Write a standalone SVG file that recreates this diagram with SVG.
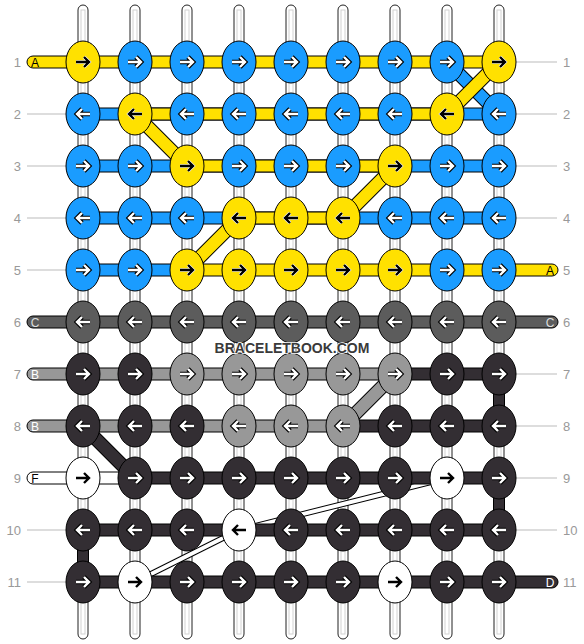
<svg xmlns="http://www.w3.org/2000/svg" xmlns:xlink="http://www.w3.org/1999/xlink" width="584" height="644" viewBox="0 0 584 644">
<style>
.y{fill:#ffe100}.b{fill:#1a9cff}.g{fill:#5c5c5c}.l{fill:#989898}.d{fill:#332e33}.w{fill:#fff}
.bar{stroke:#000;stroke-width:1}
ellipse{stroke:#000;stroke-width:1}
.str{fill:#fff;stroke:#222;stroke-width:1}
.stri{fill:none;stroke:#d2d2d2;stroke-width:1}
.ol{stroke:#000;stroke-width:14;fill:none}
.ol2{stroke:#000;stroke-width:6;fill:none}
.sy{stroke:#ffe100;stroke-width:12}.sb{stroke:#1a9cff;stroke-width:12}.sl{stroke:#989898;stroke-width:12}.sd{stroke:#332e33;stroke-width:12}.sw{stroke:#fff;stroke-width:4}
.gl{stroke:#bbb;stroke-width:1}
.num{font-family:"Liberation Sans",Arial,sans-serif;font-size:13px;fill:#999}
.let{font-family:"Liberation Sans",Arial,sans-serif;font-size:12px;text-anchor:middle}
.wm{font-family:"Liberation Sans",Arial,sans-serif;font-size:14px;font-weight:bold;fill:#3a3a3a;text-anchor:middle;stroke:#fff;stroke-width:1.5;paint-order:stroke}
</style>
<defs>
<path id="pr" d="M-7,0H5M1,-5L6,0L1,5" fill="none"/>
<path id="pl" d="M7,0H-5M-1,-5L-6,0L-1,5" fill="none"/>
<g id="rw"><use href="#pr" stroke="#000" stroke-width="4.6"/><use href="#pr" stroke="#fff" stroke-width="2.4"/></g>
<g id="lw"><use href="#pl" stroke="#000" stroke-width="4.6"/><use href="#pl" stroke="#fff" stroke-width="2.4"/></g>
<g id="rb"><use href="#pr" stroke="#fff" stroke-width="3.6"/><use href="#pr" stroke="#000" stroke-width="2.4"/></g>
<g id="lb"><use href="#pl" stroke="#fff" stroke-width="3.6"/><use href="#pl" stroke="#000" stroke-width="2.4"/></g>
</defs>
<rect width="584" height="644" fill="#fff"/>
<g id="strings">
<rect class="str" x="78" y="5" width="10" height="634" rx="5"/><rect class="stri" x="81" y="10" width="4" height="624"/>
<rect class="str" x="130" y="5" width="10" height="634" rx="5"/><rect class="stri" x="133" y="10" width="4" height="624"/>
<rect class="str" x="182" y="5" width="10" height="634" rx="5"/><rect class="stri" x="185" y="10" width="4" height="624"/>
<rect class="str" x="234" y="5" width="10" height="634" rx="5"/><rect class="stri" x="237" y="10" width="4" height="624"/>
<rect class="str" x="286" y="5" width="10" height="634" rx="5"/><rect class="stri" x="289" y="10" width="4" height="624"/>
<rect class="str" x="338" y="5" width="10" height="634" rx="5"/><rect class="stri" x="341" y="10" width="4" height="624"/>
<rect class="str" x="390" y="5" width="10" height="634" rx="5"/><rect class="stri" x="393" y="10" width="4" height="624"/>
<rect class="str" x="442" y="5" width="10" height="634" rx="5"/><rect class="stri" x="445" y="10" width="4" height="624"/>
<rect class="str" x="494" y="5" width="10" height="634" rx="5"/><rect class="stri" x="497" y="10" width="4" height="624"/>
</g>
<g id="labels">
<line class="gl" x1="27" y1="114" x2="66" y2="114"/><line class="gl" x1="27" y1="166" x2="66" y2="166"/>
<line class="gl" x1="27" y1="218" x2="66" y2="218"/><line class="gl" x1="27" y1="270" x2="66" y2="270"/>
<line class="gl" x1="27" y1="530" x2="66" y2="530"/><line class="gl" x1="27" y1="582" x2="66" y2="582"/>
<line class="gl" x1="516" y1="62" x2="557" y2="62"/><line class="gl" x1="516" y1="114" x2="557" y2="114"/>
<line class="gl" x1="516" y1="166" x2="557" y2="166"/><line class="gl" x1="516" y1="218" x2="557" y2="218"/>
<line class="gl" x1="516" y1="374" x2="557" y2="374"/><line class="gl" x1="516" y1="426" x2="557" y2="426"/>
<line class="gl" x1="516" y1="478" x2="557" y2="478"/><line class="gl" x1="516" y1="530" x2="557" y2="530"/>
<g class="num" text-anchor="end">
<text x="21" y="67">1</text><text x="21" y="119">2</text><text x="21" y="171">3</text><text x="21" y="223">4</text><text x="21" y="275">5</text><text x="21" y="327">6</text><text x="21" y="379">7</text><text x="21" y="431">8</text><text x="21" y="483">9</text><text x="21" y="535">10</text><text x="21" y="587">11</text>
</g>
<g class="num">
<text x="563" y="67">1</text><text x="563" y="119">2</text><text x="563" y="171">3</text><text x="563" y="223">4</text><text x="563" y="275">5</text><text x="563" y="327">6</text><text x="563" y="379">7</text><text x="563" y="431">8</text><text x="563" y="483">9</text><text x="563" y="535">10</text><text x="563" y="587">11</text>
</g>
</g>
<g id="connectors">
<line class="ol" x1="447" y1="62" x2="499" y2="114"/><line class="sb" x1="447" y1="62" x2="499" y2="114"/>
<line class="ol" x1="499" y1="62" x2="447" y2="114"/><line class="sy" x1="499" y1="62" x2="447" y2="114"/>
<line class="ol" x1="135" y1="114" x2="187" y2="166"/><line class="sy" x1="135" y1="114" x2="187" y2="166"/>
<line class="ol" x1="395" y1="166" x2="343" y2="218"/><line class="sy" x1="395" y1="166" x2="343" y2="218"/>
<line class="ol" x1="239" y1="218" x2="187" y2="270"/><line class="sy" x1="239" y1="218" x2="187" y2="270"/>
<line class="ol" x1="395" y1="374" x2="343" y2="426"/><line class="sl" x1="395" y1="374" x2="343" y2="426"/>
<line class="ol" x1="83" y1="426" x2="135" y2="478"/><line class="sd" x1="83" y1="426" x2="135" y2="478"/>
<line class="ol2" x1="447" y1="478" x2="239" y2="530"/><line class="sw" x1="447" y1="478" x2="239" y2="530"/>
<line class="ol2" x1="239" y1="530" x2="135" y2="582"/><line class="sw" x1="239" y1="530" x2="135" y2="582"/>
<rect class="d bar" x="493.5" y="374" width="11" height="52"/>
<rect class="d bar" x="493.5" y="478" width="11" height="52"/>
<rect class="d bar" x="77.5" y="530" width="11" height="52"/>
<rect class="y bar" x="27" y="56" width="472" height="12" rx="6"/>
<rect class="b bar" x="83" y="108" width="416" height="12"/><rect class="y bar" x="135" y="108" width="312" height="12"/>
<rect class="b bar" x="83" y="160" width="416" height="12"/><rect class="y bar" x="187" y="160" width="208" height="12"/>
<rect class="b bar" x="83" y="212" width="416" height="12"/><rect class="y bar" x="239" y="212" width="104" height="12"/>
<rect class="b bar" x="83" y="264" width="104" height="12"/><rect class="y bar" x="177" y="264" width="381" height="12" rx="6"/>
<rect class="g bar" x="27" y="316" width="531" height="12" rx="6"/>
<rect class="d bar" x="390" y="368" width="109" height="12"/><rect class="l bar" x="27" y="368" width="368" height="12" rx="6"/>
<rect class="d bar" x="338" y="420" width="161" height="12"/><rect class="l bar" x="27" y="420" width="316" height="12" rx="6"/>
<rect class="d bar" x="130" y="472" width="369" height="12"/><rect class="w bar" x="27" y="472" width="108" height="12" rx="6"/>
<rect class="d bar" x="83" y="524" width="416" height="12"/>
<rect class="d bar" x="83" y="576" width="475" height="12" rx="6"/>
<text class="let" x="35" y="66.5" fill="#000">A</text>
<text class="let" x="550" y="274.5" fill="#000">A</text>
<text class="let" x="35" y="326.5" fill="#ddd">C</text>
<text class="let" x="550" y="326.5" fill="#ddd">C</text>
<text class="let" x="35" y="378.5" fill="#fff">B</text>
<text class="let" x="35" y="430.5" fill="#fff">B</text>
<text class="let" x="35" y="482.5" fill="#000">F</text>
<text class="let" x="550" y="586.5" fill="#fff">D</text>
</g>
<g id="knots">
<g id="k1-1"><ellipse class="y" cx="83" cy="62" rx="17" ry="21"/><use href="#rb" x="83" y="62"/></g>
<g id="k1-2"><ellipse class="b" cx="135" cy="62" rx="17" ry="21"/><use href="#rw" x="135" y="62"/></g>
<g id="k1-3"><ellipse class="b" cx="187" cy="62" rx="17" ry="21"/><use href="#rw" x="187" y="62"/></g>
<g id="k1-4"><ellipse class="b" cx="239" cy="62" rx="17" ry="21"/><use href="#rw" x="239" y="62"/></g>
<g id="k1-5"><ellipse class="b" cx="291" cy="62" rx="17" ry="21"/><use href="#rw" x="291" y="62"/></g>
<g id="k1-6"><ellipse class="b" cx="343" cy="62" rx="17" ry="21"/><use href="#rw" x="343" y="62"/></g>
<g id="k1-7"><ellipse class="b" cx="395" cy="62" rx="17" ry="21"/><use href="#rw" x="395" y="62"/></g>
<g id="k1-8"><ellipse class="b" cx="447" cy="62" rx="17" ry="21"/><use href="#rw" x="447" y="62"/></g>
<g id="k1-9"><ellipse class="y" cx="499" cy="62" rx="17" ry="21"/><use href="#rb" x="499" y="62"/></g>

<g id="k2-1"><ellipse class="b" cx="83" cy="114" rx="17" ry="21"/><use href="#lw" x="83" y="114"/></g>
<g id="k2-2"><ellipse class="y" cx="135" cy="114" rx="17" ry="21"/><use href="#lb" x="135" y="114"/></g>
<g id="k2-3"><ellipse class="b" cx="187" cy="114" rx="17" ry="21"/><use href="#lw" x="187" y="114"/></g>
<g id="k2-4"><ellipse class="b" cx="239" cy="114" rx="17" ry="21"/><use href="#lw" x="239" y="114"/></g>
<g id="k2-5"><ellipse class="b" cx="291" cy="114" rx="17" ry="21"/><use href="#lw" x="291" y="114"/></g>
<g id="k2-6"><ellipse class="b" cx="343" cy="114" rx="17" ry="21"/><use href="#lw" x="343" y="114"/></g>
<g id="k2-7"><ellipse class="b" cx="395" cy="114" rx="17" ry="21"/><use href="#lw" x="395" y="114"/></g>
<g id="k2-8"><ellipse class="y" cx="447" cy="114" rx="17" ry="21"/><use href="#lb" x="447" y="114"/></g>
<g id="k2-9"><ellipse class="b" cx="499" cy="114" rx="17" ry="21"/><use href="#lw" x="499" y="114"/></g>

<g id="k3-1"><ellipse class="b" cx="83" cy="166" rx="17" ry="21"/><use href="#rw" x="83" y="166"/></g>
<g id="k3-2"><ellipse class="b" cx="135" cy="166" rx="17" ry="21"/><use href="#rw" x="135" y="166"/></g>
<g id="k3-3"><ellipse class="y" cx="187" cy="166" rx="17" ry="21"/><use href="#rb" x="187" y="166"/></g>
<g id="k3-4"><ellipse class="b" cx="239" cy="166" rx="17" ry="21"/><use href="#rw" x="239" y="166"/></g>
<g id="k3-5"><ellipse class="b" cx="291" cy="166" rx="17" ry="21"/><use href="#rw" x="291" y="166"/></g>
<g id="k3-6"><ellipse class="b" cx="343" cy="166" rx="17" ry="21"/><use href="#rw" x="343" y="166"/></g>
<g id="k3-7"><ellipse class="y" cx="395" cy="166" rx="17" ry="21"/><use href="#rb" x="395" y="166"/></g>
<g id="k3-8"><ellipse class="b" cx="447" cy="166" rx="17" ry="21"/><use href="#rw" x="447" y="166"/></g>
<g id="k3-9"><ellipse class="b" cx="499" cy="166" rx="17" ry="21"/><use href="#rw" x="499" y="166"/></g>

<g id="k4-1"><ellipse class="b" cx="83" cy="218" rx="17" ry="21"/><use href="#lw" x="83" y="218"/></g>
<g id="k4-2"><ellipse class="b" cx="135" cy="218" rx="17" ry="21"/><use href="#lw" x="135" y="218"/></g>
<g id="k4-3"><ellipse class="b" cx="187" cy="218" rx="17" ry="21"/><use href="#lw" x="187" y="218"/></g>
<g id="k4-4"><ellipse class="y" cx="239" cy="218" rx="17" ry="21"/><use href="#lb" x="239" y="218"/></g>
<g id="k4-5"><ellipse class="y" cx="291" cy="218" rx="17" ry="21"/><use href="#lb" x="291" y="218"/></g>
<g id="k4-6"><ellipse class="y" cx="343" cy="218" rx="17" ry="21"/><use href="#lb" x="343" y="218"/></g>
<g id="k4-7"><ellipse class="b" cx="395" cy="218" rx="17" ry="21"/><use href="#lw" x="395" y="218"/></g>
<g id="k4-8"><ellipse class="b" cx="447" cy="218" rx="17" ry="21"/><use href="#lw" x="447" y="218"/></g>
<g id="k4-9"><ellipse class="b" cx="499" cy="218" rx="17" ry="21"/><use href="#lw" x="499" y="218"/></g>

<g id="k5-1"><ellipse class="b" cx="83" cy="270" rx="17" ry="21"/><use href="#rw" x="83" y="270"/></g>
<g id="k5-2"><ellipse class="b" cx="135" cy="270" rx="17" ry="21"/><use href="#rw" x="135" y="270"/></g>
<g id="k5-3"><ellipse class="y" cx="187" cy="270" rx="17" ry="21"/><use href="#rb" x="187" y="270"/></g>
<g id="k5-4"><ellipse class="y" cx="239" cy="270" rx="17" ry="21"/><use href="#rb" x="239" y="270"/></g>
<g id="k5-5"><ellipse class="y" cx="291" cy="270" rx="17" ry="21"/><use href="#rb" x="291" y="270"/></g>
<g id="k5-6"><ellipse class="y" cx="343" cy="270" rx="17" ry="21"/><use href="#rb" x="343" y="270"/></g>
<g id="k5-7"><ellipse class="y" cx="395" cy="270" rx="17" ry="21"/><use href="#rb" x="395" y="270"/></g>
<g id="k5-8"><ellipse class="b" cx="447" cy="270" rx="17" ry="21"/><use href="#rw" x="447" y="270"/></g>
<g id="k5-9"><ellipse class="b" cx="499" cy="270" rx="17" ry="21"/><use href="#rw" x="499" y="270"/></g>

<g id="k6-1"><ellipse class="g" cx="83" cy="322" rx="17" ry="21"/><use href="#lw" x="83" y="322"/></g>
<g id="k6-2"><ellipse class="g" cx="135" cy="322" rx="17" ry="21"/><use href="#lw" x="135" y="322"/></g>
<g id="k6-3"><ellipse class="g" cx="187" cy="322" rx="17" ry="21"/><use href="#lw" x="187" y="322"/></g>
<g id="k6-4"><ellipse class="g" cx="239" cy="322" rx="17" ry="21"/><use href="#lw" x="239" y="322"/></g>
<g id="k6-5"><ellipse class="g" cx="291" cy="322" rx="17" ry="21"/><use href="#lw" x="291" y="322"/></g>
<g id="k6-6"><ellipse class="g" cx="343" cy="322" rx="17" ry="21"/><use href="#lw" x="343" y="322"/></g>
<g id="k6-7"><ellipse class="g" cx="395" cy="322" rx="17" ry="21"/><use href="#lw" x="395" y="322"/></g>
<g id="k6-8"><ellipse class="g" cx="447" cy="322" rx="17" ry="21"/><use href="#lw" x="447" y="322"/></g>
<g id="k6-9"><ellipse class="g" cx="499" cy="322" rx="17" ry="21"/><use href="#lw" x="499" y="322"/></g>

<g id="k7-1"><ellipse class="d" cx="83" cy="374" rx="17" ry="21"/><use href="#rw" x="83" y="374"/></g>
<g id="k7-2"><ellipse class="d" cx="135" cy="374" rx="17" ry="21"/><use href="#rw" x="135" y="374"/></g>
<g id="k7-3"><ellipse class="l" cx="187" cy="374" rx="17" ry="21"/><use href="#rw" x="187" y="374"/></g>
<g id="k7-4"><ellipse class="l" cx="239" cy="374" rx="17" ry="21"/><use href="#rw" x="239" y="374"/></g>
<g id="k7-5"><ellipse class="l" cx="291" cy="374" rx="17" ry="21"/><use href="#rw" x="291" y="374"/></g>
<g id="k7-6"><ellipse class="l" cx="343" cy="374" rx="17" ry="21"/><use href="#rw" x="343" y="374"/></g>
<g id="k7-7"><ellipse class="l" cx="395" cy="374" rx="17" ry="21"/><use href="#rw" x="395" y="374"/></g>
<g id="k7-8"><ellipse class="d" cx="447" cy="374" rx="17" ry="21"/><use href="#rw" x="447" y="374"/></g>
<g id="k7-9"><ellipse class="d" cx="499" cy="374" rx="17" ry="21"/><use href="#rw" x="499" y="374"/></g>

<g id="k8-1"><ellipse class="d" cx="83" cy="426" rx="17" ry="21"/><use href="#lw" x="83" y="426"/></g>
<g id="k8-2"><ellipse class="d" cx="135" cy="426" rx="17" ry="21"/><use href="#lw" x="135" y="426"/></g>
<g id="k8-3"><ellipse class="d" cx="187" cy="426" rx="17" ry="21"/><use href="#lw" x="187" y="426"/></g>
<g id="k8-4"><ellipse class="l" cx="239" cy="426" rx="17" ry="21"/><use href="#lw" x="239" y="426"/></g>
<g id="k8-5"><ellipse class="l" cx="291" cy="426" rx="17" ry="21"/><use href="#lw" x="291" y="426"/></g>
<g id="k8-6"><ellipse class="l" cx="343" cy="426" rx="17" ry="21"/><use href="#lw" x="343" y="426"/></g>
<g id="k8-7"><ellipse class="d" cx="395" cy="426" rx="17" ry="21"/><use href="#lw" x="395" y="426"/></g>
<g id="k8-8"><ellipse class="d" cx="447" cy="426" rx="17" ry="21"/><use href="#lw" x="447" y="426"/></g>
<g id="k8-9"><ellipse class="d" cx="499" cy="426" rx="17" ry="21"/><use href="#lw" x="499" y="426"/></g>

<g id="k9-1"><ellipse class="w" cx="83" cy="478" rx="17" ry="21"/><use href="#rb" x="83" y="478"/></g>
<g id="k9-2"><ellipse class="d" cx="135" cy="478" rx="17" ry="21"/><use href="#rw" x="135" y="478"/></g>
<g id="k9-3"><ellipse class="d" cx="187" cy="478" rx="17" ry="21"/><use href="#rw" x="187" y="478"/></g>
<g id="k9-4"><ellipse class="d" cx="239" cy="478" rx="17" ry="21"/><use href="#rw" x="239" y="478"/></g>
<g id="k9-5"><ellipse class="d" cx="291" cy="478" rx="17" ry="21"/><use href="#rw" x="291" y="478"/></g>
<g id="k9-6"><ellipse class="d" cx="343" cy="478" rx="17" ry="21"/><use href="#rw" x="343" y="478"/></g>
<g id="k9-7"><ellipse class="d" cx="395" cy="478" rx="17" ry="21"/><use href="#rw" x="395" y="478"/></g>
<g id="k9-8"><ellipse class="w" cx="447" cy="478" rx="17" ry="21"/><use href="#rb" x="447" y="478"/></g>
<g id="k9-9"><ellipse class="d" cx="499" cy="478" rx="17" ry="21"/><use href="#rw" x="499" y="478"/></g>

<g id="k10-1"><ellipse class="d" cx="83" cy="530" rx="17" ry="21"/><use href="#lw" x="83" y="530"/></g>
<g id="k10-2"><ellipse class="d" cx="135" cy="530" rx="17" ry="21"/><use href="#lw" x="135" y="530"/></g>
<g id="k10-3"><ellipse class="d" cx="187" cy="530" rx="17" ry="21"/><use href="#lw" x="187" y="530"/></g>
<g id="k10-4"><ellipse class="w" cx="239" cy="530" rx="17" ry="21"/><use href="#lb" x="239" y="530"/></g>
<g id="k10-5"><ellipse class="d" cx="291" cy="530" rx="17" ry="21"/><use href="#lw" x="291" y="530"/></g>
<g id="k10-6"><ellipse class="d" cx="343" cy="530" rx="17" ry="21"/><use href="#lw" x="343" y="530"/></g>
<g id="k10-7"><ellipse class="d" cx="395" cy="530" rx="17" ry="21"/><use href="#lw" x="395" y="530"/></g>
<g id="k10-8"><ellipse class="d" cx="447" cy="530" rx="17" ry="21"/><use href="#lw" x="447" y="530"/></g>
<g id="k10-9"><ellipse class="d" cx="499" cy="530" rx="17" ry="21"/><use href="#lw" x="499" y="530"/></g>

<g id="k11-1"><ellipse class="d" cx="83" cy="582" rx="17" ry="21"/><use href="#rw" x="83" y="582"/></g>
<g id="k11-2"><ellipse class="w" cx="135" cy="582" rx="17" ry="21"/><use href="#rb" x="135" y="582"/></g>
<g id="k11-3"><ellipse class="d" cx="187" cy="582" rx="17" ry="21"/><use href="#rw" x="187" y="582"/></g>
<g id="k11-4"><ellipse class="d" cx="239" cy="582" rx="17" ry="21"/><use href="#rw" x="239" y="582"/></g>
<g id="k11-5"><ellipse class="d" cx="291" cy="582" rx="17" ry="21"/><use href="#rw" x="291" y="582"/></g>
<g id="k11-6"><ellipse class="d" cx="343" cy="582" rx="17" ry="21"/><use href="#rw" x="343" y="582"/></g>
<g id="k11-7"><ellipse class="w" cx="395" cy="582" rx="17" ry="21"/><use href="#rb" x="395" y="582"/></g>
<g id="k11-8"><ellipse class="d" cx="447" cy="582" rx="17" ry="21"/><use href="#rw" x="447" y="582"/></g>
<g id="k11-9"><ellipse class="d" cx="499" cy="582" rx="17" ry="21"/><use href="#rw" x="499" y="582"/></g>
</g>
<text class="wm" x="292" y="353">BRACELETBOOK.COM</text>
</svg>
